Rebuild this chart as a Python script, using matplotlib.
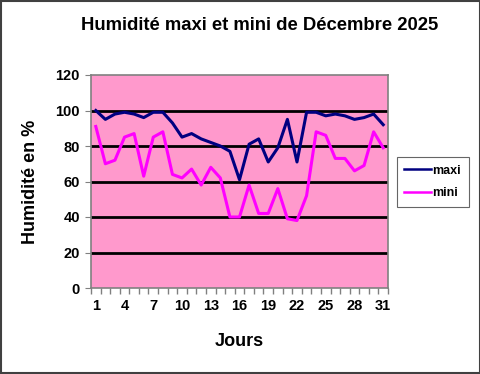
import matplotlib
matplotlib.use('Agg')
import matplotlib.pyplot as plt
from matplotlib.patches import Rectangle
import numpy as np

# Données : humidité relative (%) de décembre 2025
jours = list(range(1, 32))
maxi = [100, 95, 98, 99, 98, 96, 99, 99, 93, 85, 87, 84, 82, 80, 77, 61,
        81, 84, 71, 79, 95, 71, 99, 99, 97, 98, 97, 95, 96, 98, 92]
mini = [91, 70, 72, 85, 87, 63, 85, 88, 64, 62, 67, 58, 68, 62, 40, 40,
        58, 42, 42, 56, 39, 38, 52, 88, 86, 73, 73, 66, 69, 88, 79]
jours_ticks = [1, 4, 7, 10, 13, 16, 19, 22, 25, 28, 31]

plt.rcParams['font.family'] = ['Liberation Sans', 'DejaVu Sans']
plt.rcParams['font.weight'] = 'bold'

fig = plt.figure(figsize=(4.81, 3.74), dpi=100)
ax = fig.add_axes([91/481, 1 - 288/374, (388 - 91)/481, (288 - 75)/374])

ax.set_facecolor('#FF99CC')
ax.plot(jours, maxi, color='#000080', lw=2.2, label='maxi')
ax.plot(jours, mini, color='#FF00FF', lw=2.2, label='mini')

ax.set_xlim(0.5, 31.5)
ax.set_ylim(0, 120)
ax.set_yticks(range(0, 121, 20))
ax.set_xticks(jours_ticks)
ax.set_xticks(np.arange(0.5, 32, 1), minor=True)
ax.tick_params(axis='x', which='major', length=0, pad=8, labelsize=10.5)
ax.tick_params(axis='x', which='minor', length=4, color='#808080', width=1)
ax.tick_params(axis='y', length=4, color='#808080', labelsize=10.5, pad=4)
for lab in ax.get_xticklabels() + ax.get_yticklabels():
    lab.set_fontweight('bold')

for v in range(20, 101, 20):
    ax.axhline(v, color='black', lw=2, zorder=1)

for s in ax.spines.values():
    s.set_color('#808080')
    s.set_linewidth(1.2)

ax.set_xlabel('Jours', fontsize=13, fontweight='bold', labelpad=14)
ax.set_ylabel('Humidité en %', fontsize=13, fontweight='bold', labelpad=12)

fig.text(260/481, 1 - 25/374, 'Humidité maxi et mini de Décembre 2025',
         ha='center', va='center', fontsize=13.3, fontweight='bold')

leg = fig.legend(loc='upper left', bbox_to_anchor=(397/481, 1 - 157/374),
                 fontsize=9, frameon=True, fancybox=False, edgecolor='#404040',
                 handlelength=2.1, borderpad=0.6, labelspacing=0.85,
                 handletextpad=0.15, borderaxespad=0)
leg.get_frame().set_linewidth(0.8)
for t in leg.get_texts():
    t.set_fontweight('bold')
for h in leg.get_lines():
    h.set_linewidth(1.8)

# cadre gris autour de la figure
fig.patches.append(Rectangle((0.002, 0.003), 0.996, 0.994, transform=fig.transFigure,
                             fill=False, edgecolor='#404040', lw=1.5))

fig.savefig('out.png', dpi=100)
